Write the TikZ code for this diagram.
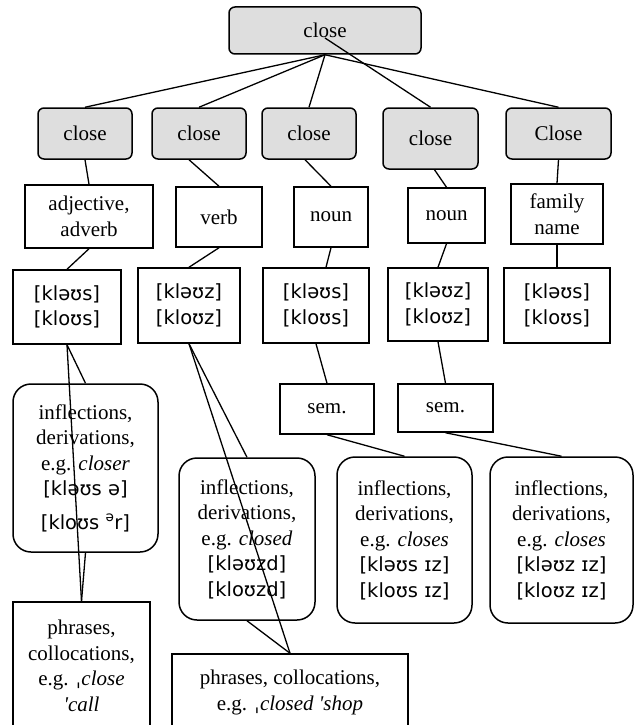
\documentclass[tikz,border=0pt]{standalone}
\usepackage{fontspec}
\setmainfont{Liberation Serif}
\newfontfamily\ipafont{DejaVu Sans}
\usetikzlibrary{calc}
\newcommand{\ipa}[1]{{\ipafont\fontsize{19.5}{25}\selectfont #1}}
\begin{document}
\begin{tikzpicture}[x=1pt,y=-1pt,
  base/.style={draw=black, line width=1.5pt, inner sep=0pt, align=center,
    font=\fontsize{21}{25.5}\selectfont},
  graybox/.style={base, fill=gray!26, rounded corners=6pt},
  plainbox/.style={base},
  roundbox/.style={base, rounded corners=18pt},
  link/.style={line width=1.3pt},
]
\useasboundingbox (0,0) rectangle (634,725);
\clip (0,0) rectangle (634,725);
% level 1
\node[graybox, minimum width=192pt, minimum height=47pt] (top) at (325,30.5) {close};
% level 2
\node[graybox, minimum width=94pt, minimum height=51pt] (g1) at (85,133.5) {close};
\node[graybox, minimum width=94pt, minimum height=51pt] (g2) at (199,133.5) {close};
\node[graybox, minimum width=94pt, minimum height=51pt] (g3) at (309,133.5) {close};
\node[graybox, minimum width=95pt, minimum height=61pt] (g4) at (430.5,138.5) {close};
\node[graybox, minimum width=105pt, minimum height=51pt] (g5) at (558.5,133.5) {Close};
% level 3
\node[plainbox, minimum width=128pt, minimum height=63pt] (l1) at (89,216.5) {adjective,\\adverb};
\node[plainbox, minimum width=86pt, minimum height=60pt] (l2) at (219,217) {verb};
\node[plainbox, minimum width=74pt, minimum height=60pt] (l3) at (331,217) {noun};
\node[plainbox, minimum width=77pt, minimum height=55pt] (l4) at (446.5,215.5) {noun};
\node[plainbox, minimum width=92pt, minimum height=60pt] (l5) at (557,214) {family\\name};
% phonetic
\node[plainbox, minimum width=108pt, minimum height=74pt] (p1) at (67,307) {\ipa{[kləʊs]}\\\ipa{[kloʊs]}};
\node[plainbox, minimum width=102pt, minimum height=75pt] (p2) at (189,305.5) {\ipa{[kləʊz]}\\\ipa{[kloʊz]}};
\node[plainbox, minimum width=106pt, minimum height=75pt] (p3) at (316,305.5) {\ipa{[kləʊs]}\\\ipa{[kloʊs]}};
\node[plainbox, minimum width=100pt, minimum height=73pt] (p4) at (438,304.5) {\ipa{[kləʊz]}\\\ipa{[kloʊz]}};
\node[plainbox, minimum width=106pt, minimum height=75pt] (p5) at (557,305.5) {\ipa{[kləʊs]}\\\ipa{[kloʊs]}};
% sem
\node[plainbox, minimum width=94pt, minimum height=50pt] (s1) at (327,409) {sem.};
\node[plainbox, minimum width=95pt, minimum height=48pt] (s2) at (445.5,408) {sem.};
% inflections
\node[roundbox, minimum width=145pt, minimum height=168pt] (r1) at (85.5,468)
  {inflections,\\derivations,\\e.g. \textit{closer}\\\ipa{[kləʊs ə]}\\[8pt]\ipa{[kloʊs \textsuperscript{ə}r]}};
\node[roundbox, minimum width=136pt, minimum height=162pt] (r2) at (247,539)
  {inflections,\\derivations,\\e.g. \textit{closed}\\\ipa{[kləʊzd]}\\\ipa{[kloʊzd]}};
\node[roundbox, minimum width=135pt, minimum height=166pt] (r3) at (404.5,540)
  {inflections,\\derivations,\\e.g. \textit{closes}\\\ipa{[kləʊs ɪz]}\\\ipa{[kloʊs ɪz]}};
\node[roundbox, minimum width=143pt, minimum height=166pt] (r4) at (561.5,540)
  {inflections,\\derivations,\\e.g. \textit{closes}\\\ipa{[kləʊz ɪz]}\\\ipa{[kloʊz ɪz]}};
% phrases
\node[plainbox, minimum width=137pt, minimum height=128pt] (f1) at (81.5,666)
  {phrases,\\collocations,\\e.g. {\ipafont ˌ}\textit{close}\\\textit{\textquotesingle call}};
\node[plainbox, minimum width=236pt, minimum height=77pt] (f2) at (290,692.5)
  {phrases, collocations,\\e.g. {\ipafont ˌ}\textit{closed \textquotesingle shop}};
% connectors
\draw[link] (top.south) -- (g1.north);
\draw[link] (top.south) -- (g2.north);
\draw[link] (top.south) -- (g3.north);
\draw[link] ($(top.center)+(0,7.5)$) -- (g4.north);
\draw[link] (top.south) -- (g5.north);
\draw[link] (g1.south) -- (l1.north);
\draw[link] ($(g2.south)+(-10,0)$) -- (l2.north);
\draw[link] ($(g3.south)+(-4,0)$) -- (l3.north);
\draw[link] ($(g4.south)+(4,0)$) -- (l4.north);
\draw[link] (g5.south) -- (l5.north);
\draw[link] (l1.south) -- (p1.north);
\draw[link] (l2.south) -- (p2.north);
\draw[link] (l3.south) -- ($(p3.north)+(10,0)$);
\draw[link] (l4.south) -- (p4.north);
\draw[link] (l5.south) -- (p5.north);
\draw[link] (p1.south) -- (r1.north);
\draw[link] (p1.south) -- (f1.north);
\draw[link] (r1.south) -- (f1.north);
\draw[link] (p2.south) -- (r2.north);
\draw[link] (p2.south) -- (f2.north);
\draw[link] (r2.south) -- (f2.north);
\draw[link] (p3.south) -- (s1.north);
\draw[link] (s1.south) -- (r3.north);
\draw[link] (p4.south) -- (s2.north);
\draw[link] (s2.south) -- (r4.north);
\end{tikzpicture}
\end{document}
